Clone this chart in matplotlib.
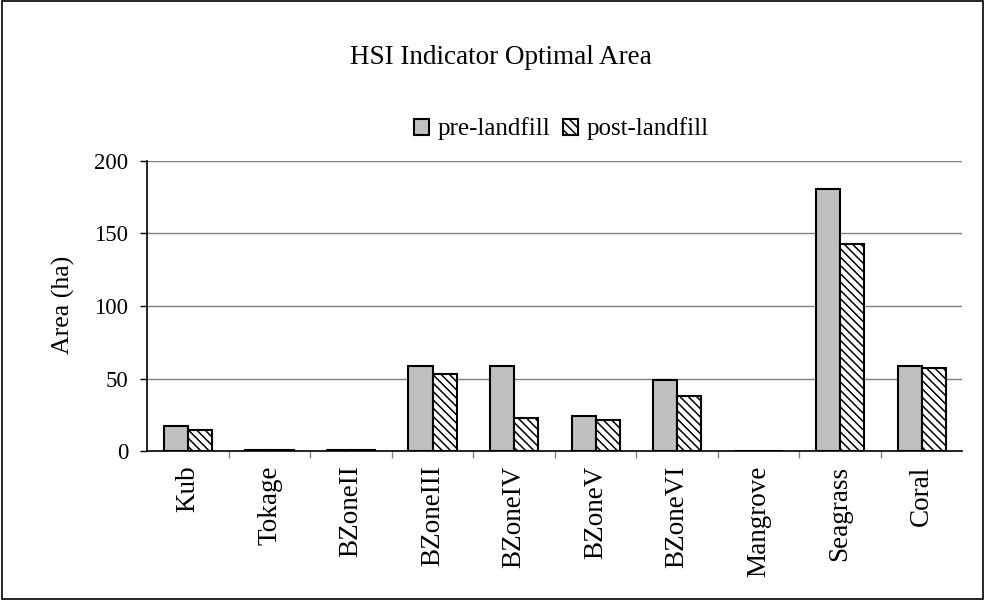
import numpy as np
import matplotlib
matplotlib.use('Agg')
import matplotlib.pyplot as plt
from matplotlib.patches import Rectangle

# Optimal habitat area per HSI indicator (ha)
sites = ['Kub', 'Tokage', 'BZoneII', 'BZoneIII', 'BZoneIV',
         'BZoneV', 'BZoneVI', 'Mangrove', 'Seagrass', 'Coral']
pre_landfill = [17.4, 1.0, 1.0, 58.6, 58.6, 24.1, 48.8, 0.0, 181.0, 58.6]
post_landfill = [14.5, 1.0, 1.0, 53.0, 22.8, 21.4, 38.1, 0.0, 143.0, 57.2]
y_ticks = [0, 50, 100, 150, 200]

plt.rcParams.update({
    'font.family': ['Liberation Serif', 'DejaVu Serif'],
    'hatch.linewidth': 1.1,
    'hatch.color': '#383838',
})

fig = plt.figure(figsize=(9.85, 6.0), dpi=100)
ax = fig.add_axes([0.1495, 0.2483, 0.8275, 0.4834])

x = np.arange(len(sites))
w = 0.295
ax.bar(x - w / 2, pre_landfill, w, color='#c0c0c0', edgecolor='black',
       linewidth=1.5, label='pre-landfill', zorder=3)
ax.bar(x + w / 2, post_landfill, w, color='white', edgecolor='black',
       linewidth=1.5, hatch='\\\\\\\\', label='post-landfill', zorder=3)

ax.set_xlim(-0.5, len(sites) - 0.5)
ax.set_ylim(0, 200)
ax.set_yticks(y_ticks)
ax.set_xticks(x)
ax.set_xticklabels(sites, rotation=90, fontsize=19.5)
ax.tick_params(axis='x', length=0, pad=10.5)
# category separators below the axis
ax.set_xticks(np.arange(0.5, len(sites) - 0.5, 1.0), minor=True)
ax.tick_params(axis='x', which='minor', direction='out', length=5,
               width=1, color='#808080')
ax.tick_params(axis='y', direction='out', length=5, width=1, labelsize=16.5,
               pad=8.5)
ax.yaxis.grid(True, color='#808080', lw=1, zorder=0)

for side in ('top', 'right'):
    ax.spines[side].set_visible(False)
for side in ('left', 'bottom'):
    ax.spines[side].set_linewidth(1.2)

fig.text(63 / 985, 1 - 305 / 600, 'Area (ha)', rotation=90, ha='center',
         va='center', fontsize=18.5)

fig.text(0.5085, 1 - 64 / 600, 'HSI Indicator Optimal Area', ha='center',
         va='baseline', fontsize=19.5)
fig.legend(loc='center', bbox_to_anchor=(0.570, 0.785), ncol=2,
           frameon=False, fontsize=18, handlelength=0.6, handleheight=0.6,
           handletextpad=0.35, columnspacing=0.5, borderpad=0)

# chart area border
fig.patches.append(Rectangle((0.002, 0.002), 0.996, 0.996,
                             transform=fig.transFigure, fill=False,
                             edgecolor='black', lw=1.2))

fig.savefig('out.png', dpi=100)
